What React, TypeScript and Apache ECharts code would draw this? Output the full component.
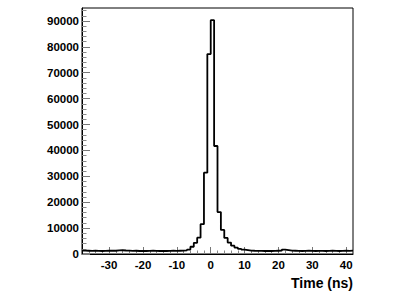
import React, { useEffect, useRef } from 'react';
import * as echarts from 'echarts';

const binLow = -38;
const binHigh = 42;
const binWidth = 1;
const counts = [
  1300, 1250, 1200, 1250, 1200, 1150, 1200, 1250, 1300, 1250,
  1400, 1450, 1350, 1300, 1200, 1250, 1150, 1200, 1150, 1200,
  1250, 1200, 1150, 1200, 1150, 1200, 1250, 1200, 1250, 1300,
  1400, 1700, 2800, 4300, 6300, 11500, 31400, 77200, 90300, 41700,
  16200, 9300, 6200, 4400, 3200, 2500, 2000, 1700, 1500, 1300,
  1250, 1200, 1200, 1150, 1200, 1150, 1200, 1250, 1300, 1700,
  1500, 1300, 1250, 1200, 1150, 1200, 1250, 1200, 1150, 1200,
  1200, 1150, 1200, 1250, 1200, 1150, 1200, 1250, 1200, 1300,
];
const xLabelValues = [-30, -20, -10, 0, 10, 20, 30, 40];
const xMinorTicks = [
  -36, -34, -32, -28, -26, -24, -22, -18, -16, -14, -12, -8, -6, -4, -2,
  2, 4, 6, 8, 12, 14, 16, 18, 22, 24, 26, 28, 32, 34, 36, 38, 42,
];
const yMax = 95000;
const yLabelValues = [0, 10000, 20000, 30000, 40000, 50000, 60000, 70000, 80000, 90000];
const yMinorTicks = [
  2000, 4000, 6000, 8000, 12000, 14000, 16000, 18000, 22000, 24000, 26000, 28000,
  32000, 34000, 36000, 38000, 42000, 44000, 46000, 48000, 52000, 54000, 56000, 58000,
  62000, 64000, 66000, 68000, 72000, 74000, 76000, 78000, 82000, 84000, 86000, 88000,
  92000, 94000,
];
const xTitle = 'Time (ns)';

const FONT = '"Liberation Sans", Arial, Helvetica, sans-serif';

export default function App() {
  const ref = useRef<HTMLDivElement>(null);
  useEffect(() => {
    if (!ref.current) return;
    const chart = echarts.init(ref.current, null, { renderer: 'svg' });
    const data: number[][] = counts.map((v, i) => [binLow + i * binWidth, v]);
    data.push([binHigh, counts[counts.length - 1]]);

    const labelStyle = {
      color: '#000',
      fontFamily: FONT,
      fontWeight: 'bold' as const,
      fontSize: 11.5,
    };

    chart.setOption({
      animation: false,
      backgroundColor: '#fff',
      grid: {
        left: 82,
        top: 8,
        right: 62,
        bottom: 40,
        show: true,
        borderColor: '#000',
        borderWidth: 1,
        backgroundColor: 'transparent',
      },
      xAxis: [
        {
          type: 'value',
          min: binLow,
          max: binHigh,
          position: 'bottom',
          axisLine: { show: true, onZero: false, lineStyle: { color: '#000', width: 1 } },
          axisTick: {
            show: true,
            inside: true,
            length: 7,
            customValues: xLabelValues,
            lineStyle: { color: '#777', width: 1 },
          },
          axisLabel: {
            ...labelStyle,
            margin: 5,
            customValues: xLabelValues,
            formatter: (v: number) => String(v),
          },
          splitLine: { show: false },
        },
        {
          type: 'value',
          min: binLow,
          max: binHigh,
          position: 'bottom',
          axisLine: { show: false, onZero: false },
          axisTick: {
            show: true,
            inside: true,
            length: 3.5,
            customValues: xMinorTicks,
            lineStyle: { color: '#888', width: 1 },
          },
          axisLabel: { show: false },
          splitLine: { show: false },
        },
      ],
      yAxis: [
        {
          type: 'value',
          min: 0,
          max: yMax,
          position: 'left',
          axisLine: { show: true, onZero: false, lineStyle: { color: '#000', width: 1 } },
          axisTick: {
            show: true,
            inside: true,
            length: 8,
            customValues: yLabelValues,
            lineStyle: { color: '#777', width: 1 },
          },
          axisLabel: {
            ...labelStyle,
            margin: 3,
            customValues: yLabelValues,
            formatter: (v: number) => String(v),
          },
          splitLine: { show: false },
        },
        {
          type: 'value',
          min: 0,
          max: yMax,
          position: 'left',
          axisLine: { show: false, onZero: false },
          axisTick: {
            show: true,
            inside: true,
            length: 4.5,
            customValues: yMinorTicks,
            lineStyle: { color: '#888', width: 1 },
          },
          axisLabel: { show: false },
          splitLine: { show: false },
        },
      ],
      series: [
        {
          type: 'line',
          xAxisIndex: 0,
          yAxisIndex: 0,
          step: 'end',
          data,
          symbol: 'none',
          lineStyle: { color: '#000', width: 1.8 },
          silent: true,
        },
      ],
      graphic: [
        {
          type: 'text',
          right: 62,
          top: 276,
          style: {
            text: xTitle,
            fill: '#000',
            font: `bold 14px ${FONT}`,
          },
        },
      ],
    });
    return () => chart.dispose();
  }, []);

  return (
    <div
      ref={ref}
      style={{ position: 'fixed', left: 0, top: 0, width: 415, height: 294, background: '#fff' }}
    />
  );
}
